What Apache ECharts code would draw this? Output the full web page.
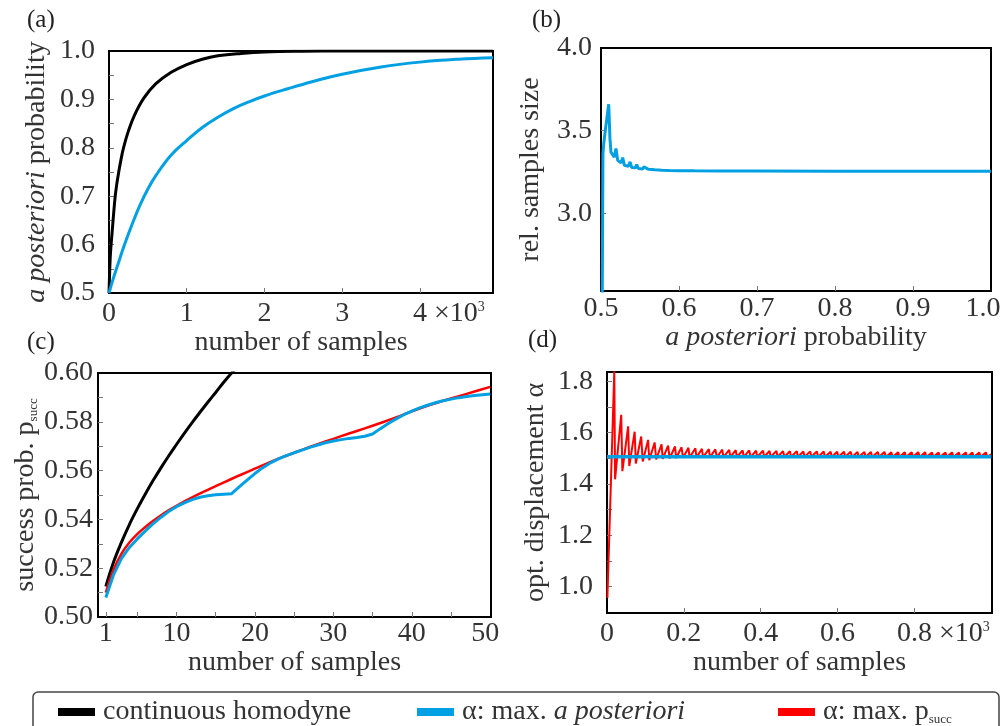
<!DOCTYPE html>
<html><head><meta charset="utf-8">
<script src="https://cdn.jsdelivr.net/npm/echarts@6/dist/echarts.min.js"></script>
<style>html,body{margin:0;padding:0;background:#fff}#c{width:1001px;height:726px}</style>
</head><body><div id="c"></div>
<script>
// ---------- Panel (a): a posteriori probability vs number of samples (x in 10^3) ----------
const aBlackX = [0, 0.01, 0.02, 0.04, 0.06, 0.08, 0.10, 0.125, 0.15, 0.185, 0.25, 0.33, 0.45, 0.6, 0.8, 1.0, 1.2, 1.4, 1.7, 2.0, 2.5, 3.0, 4.94];
const aBlackY = [0.5, 0.55, 0.585, 0.625, 0.665, 0.70, 0.725, 0.75, 0.772, 0.799, 0.835, 0.868, 0.903, 0.932, 0.956, 0.972, 0.983, 0.990, 0.995, 0.998, 0.9995, 1.0, 1.0];
const aBlueX = [0, 0.05, 0.1, 0.2, 0.3, 0.4, 0.5, 0.6, 0.8, 1.0, 1.2, 1.4, 1.6, 1.8, 2.0, 2.3, 2.6, 3.0, 3.5, 4.0, 4.5, 4.94];
const aBlueY = [0.5, 0.527, 0.552, 0.600, 0.643, 0.682, 0.715, 0.742, 0.785, 0.815, 0.842, 0.863, 0.881, 0.895, 0.907, 0.922, 0.936, 0.952, 0.967, 0.977, 0.983, 0.986];
const aXLabels = [0, 1, 2, 3, 4];
const aXTicks = [1, 2, 3, 4];
const aYLabels = [0.5, 0.6, 0.7, 0.8, 0.9, 1.0];
const aYTicks = [0.55, 0.6, 0.65, 0.7, 0.75, 0.8, 0.85, 0.9, 0.95];

// ---------- Panel (b): rel. samples size vs a posteriori probability ----------
const bX = [0.5015, 0.5025, 0.5035, 0.5060, 0.5099, 0.5115, 0.5128, 0.5170, 0.5192, 0.5214, 0.5256, 0.5278, 0.5300, 0.5350, 0.5372, 0.5394, 0.5440, 0.5458, 0.5478, 0.5534, 0.5550, 0.5610, 0.5625, 0.5690, 0.5700, 0.5780, 0.5790, 0.5880, 0.6000, 0.6200, 0.6500, 0.7000, 0.8000, 0.9000, 1.0000];
const bY = [2.40, 3.36, 3.42, 3.52, 3.66, 3.45, 3.37, 3.34, 3.392, 3.32, 3.305, 3.337, 3.29, 3.285, 3.311, 3.277, 3.275, 3.295, 3.271, 3.268, 3.281, 3.266, 3.276, 3.263, 3.270, 3.261, 3.266, 3.259, 3.258, 3.257, 3.256, 3.256, 3.255, 3.255, 3.255];
const bXLabels = [0.5, 0.6, 0.7, 0.8, 0.9, 1.0];
const bXTicks = [0.6, 0.7, 0.8, 0.9];
const bYLabels = [3.0, 3.5, 4.0];
const bYTicks = [3.0, 3.5];

// ---------- Panel (c): success probability vs number of samples ----------
const cBlackX = [1, 2, 3, 4, 5, 6, 7, 8, 9, 10, 11, 12, 13, 14, 15, 16, 17, 18, 19];
const cBlackY = [0.5125, 0.5226, 0.5307, 0.5379, 0.5443, 0.5502, 0.5558, 0.5610, 0.5660, 0.5707, 0.5753, 0.5797, 0.5839, 0.5880, 0.5920, 0.5961, 0.5999, 0.6034, 0.6072];
const cRedX = [1, 2, 3, 4, 5, 6, 7, 8, 9, 10, 12, 14, 16, 18, 20, 22, 24, 26, 28, 30, 32, 34, 36, 38, 40, 42, 44, 46, 48, 50];
const cRedY = [0.5100, 0.5195, 0.5260, 0.5305, 0.5340, 0.5368, 0.5393, 0.5416, 0.5437, 0.5456, 0.5490, 0.5521, 0.5551, 0.5580, 0.5608, 0.5636, 0.5661, 0.5685, 0.5708, 0.5730, 0.5752, 0.5773, 0.5795, 0.5818, 0.5843, 0.5866, 0.5886, 0.5905, 0.5924, 0.5943];
const cBlueX = [1, 2, 3, 4, 5, 6, 7, 8, 9, 10, 11, 12, 13, 14, 15, 16, 17, 18, 19, 20, 21, 22, 23, 24, 25, 26, 27, 28, 29, 30, 31, 32, 33, 34, 35, 36, 37, 38, 39, 40, 41, 42, 43, 44, 45, 46, 47, 48, 49, 50];
const cBlueY = [0.5080, 0.5175, 0.5240, 0.5285, 0.5320, 0.5352, 0.5382, 0.5408, 0.5432, 0.5452, 0.5468, 0.5481, 0.5491, 0.5497, 0.5501, 0.5503, 0.5505, 0.5533, 0.5561, 0.5588, 0.5612, 0.5632, 0.5648, 0.5661, 0.5673, 0.5684, 0.5695, 0.5705, 0.5714, 0.5721, 0.5727, 0.5732, 0.5736, 0.5741, 0.5750, 0.5772, 0.5793, 0.5812, 0.5829, 0.5844, 0.5857, 0.5868, 0.5878, 0.5886, 0.5893, 0.5899, 0.5904, 0.5908, 0.5911, 0.5914];
const cXLabels = [1, 10, 20, 30, 40, 50];
const cXTicks = [1, 5, 10, 15, 20, 25, 30, 35, 40, 45];
const cYLabels = [0.50, 0.52, 0.54, 0.56, 0.58, 0.60];
const cYTicks = [0.51, 0.52, 0.53, 0.54, 0.55, 0.56, 0.57, 0.58, 0.59];

// ---------- Panel (d): optimal displacement vs number of samples ----------
const dRedStart = [1, 0.955];
const dPeakX = [19, 37, 55, 72, 89, 107, 124, 142, 159, 177, 194, 212, 230, 247, 265, 282, 300, 318, 335, 353, 370, 388, 406, 423, 441, 458, 476, 494, 511, 529, 546, 564, 582, 599, 617, 634, 652, 670, 687, 705, 722, 740, 758, 775, 793, 810, 828, 846, 863, 881, 898, 916, 934, 951, 969, 986];
const dPeakY = [1.840, 1.670, 1.625, 1.604, 1.585, 1.572, 1.562, 1.555, 1.550, 1.546, 1.543, 1.541, 1.539, 1.537, 1.536, 1.535, 1.534, 1.533, 1.532, 1.531, 1.531, 1.530, 1.530, 1.529, 1.529, 1.528, 1.528, 1.528, 1.527, 1.527, 1.527, 1.527, 1.526, 1.526, 1.526, 1.526, 1.525, 1.525, 1.525, 1.525, 1.525, 1.524, 1.524, 1.524, 1.524, 1.524, 1.524, 1.523, 1.523, 1.523, 1.523, 1.523, 1.523, 1.523, 1.523, 1.523];
const dTroughX = [21, 40, 58, 75, 93, 110, 128, 145, 163, 180, 198, 215, 233, 250, 268, 286, 303, 321, 338, 356, 374, 391, 409, 426, 444, 462, 479, 497, 514, 532, 550, 567, 585, 602, 620, 638, 655, 673, 690, 708, 726, 743, 761, 778, 796, 814, 831, 849, 866, 884, 902, 919, 937, 954, 972, 990];
const dTroughY = [1.418, 1.450, 1.470, 1.480, 1.488, 1.493, 1.496, 1.498, 1.500, 1.501, 1.502, 1.503, 1.503, 1.504, 1.504, 1.504, 1.505, 1.505, 1.505, 1.505, 1.505, 1.505, 1.505, 1.505, 1.505, 1.505, 1.505, 1.505, 1.505, 1.505, 1.505, 1.505, 1.505, 1.505, 1.505, 1.505, 1.505, 1.505, 1.505, 1.505, 1.505, 1.505, 1.505, 1.505, 1.505, 1.505, 1.505, 1.505, 1.505, 1.505, 1.505, 1.505, 1.505, 1.505, 1.505, 1.505];
const dRedEnd = [1000, 1.516];
const dBlueX = [0, 1000];
const dBlueY = [1.506, 1.506];
const dXLabels = [0, 200, 400, 600, 800];
const dXTicks = [200, 400, 600, 800];
const dYLabels = [1.0, 1.2, 1.4, 1.6, 1.8];
const dYTicks = [1.0, 1.1, 1.2, 1.3, 1.4, 1.5, 1.6, 1.7, 1.8];

// ---------- helpers ----------
const FONT = '"Liberation Serif", "DejaVu Serif", serif';
const TXT = '#333';
const BLACK = '#000', BLUE = '#00a0e3', RED = '#ff0000';
const NAME_BLACK = 'continuous homodyne';
const NAME_BLUE = 'α: max. a posteriori';
const NAME_RED = 'α: max. p_succ';
function zip(xs, ys) { return xs.map((x, i) => [x, ys[i]]); }
function redD() {
  const out = [dRedStart];
  for (let i = 0; i < dPeakX.length; i++) {
    out.push([dPeakX[i], dPeakY[i]]);
    out.push([dTroughX[i], dTroughY[i]]);
  }
  out.push(dRedEnd);
  return out;
}
const baseRich = {
  n: { fontFamily: FONT, fontSize: 28, color: TXT },
  x: { fontFamily: FONT, fontSize: 28, color: TXT },
  p: { fontFamily: FONT, fontSize: 14, color: TXT, verticalAlign: 'top' },
  sp: { width: 58 },
  r16: { fontFamily: FONT, fontSize: 28, color: TXT, padding: [0, 16, 0, 0] },
  r10: { fontFamily: FONT, fontSize: 28, color: TXT, padding: [0, 10, 0, 0] },
  i: { fontFamily: FONT, fontSize: 28, color: TXT, fontStyle: 'italic' },
  t: { fontFamily: FONT, fontSize: 28, color: TXT },
  s: { fontFamily: FONT, fontSize: 13, color: TXT, verticalAlign: 'bottom' }
};
function axis(kind, grid, min, max, labels, ticks, fmt, margin, name, nameGap) {
  return {
    type: 'value', gridIndex: grid, min: min, max: max,
    name: name, nameLocation: 'middle', nameGap: nameGap,
    nameTextStyle: { fontFamily: FONT, fontSize: 28, color: TXT, rich: baseRich },
    axisLine: { show: true, onZero: false, lineStyle: { color: '#000', width: 2 } },
    axisTick: { show: true, inside: true, length: 5, customValues: ticks, lineStyle: { color: '#777', width: 1 } },
    axisLabel: { show: true, customValues: labels, formatter: fmt, margin: margin, fontFamily: FONT, fontSize: 28, color: TXT, rich: baseRich },
    splitLine: { show: false }
  };
}
function line(name, xi, data, color, width, smooth) {
  return {
    name: name, type: 'line', xAxisIndex: xi, yAxisIndex: xi, data: data,
    showSymbol: false, symbol: 'none', smooth: smooth || false,
    color: color, lineStyle: { color: color, width: width }, clip: true, animation: false
  };
}
const gridStyle = { show: true, borderColor: '#000', borderWidth: 2, containLabel: false, outerBoundsMode: 'none' };

const chart = echarts.init(document.getElementById('c'), null, { renderer: 'canvas' });
chart.setOption({
  animation: false,
  backgroundColor: '#fff',
  grid: [
    Object.assign({ left: 109, top: 51, width: 384, height: 242 }, gridStyle),
    Object.assign({ left: 601, top: 48, width: 390, height: 243 }, gridStyle),
    Object.assign({ left: 98, top: 373, width: 393, height: 244 }, gridStyle),
    Object.assign({ left: 607, top: 372, width: 385, height: 241 }, gridStyle)
  ],
  xAxis: [
    axis('x', 0, 0, 4.94, aXLabels, aXTicks, v => v === 4 ? '{sp|}{n|4}{x| ×10}{p|3}' : '{n|' + v + '}', 7, 'number of samples', 32),
    axis('x', 1, 0.5, 1.0, bXLabels, bXTicks, v => v === 1 ? '{r16|1.0}' : '{n|' + v.toFixed(1) + '}', 4, '{i|a posteriori} probability', 31),
    axis('x', 2, 0, 50.1, cXLabels, cXTicks, v => v === 50 ? '{r10|50}' : '{n|' + v + '}', 3, 'number of samples', 31),
    axis('x', 3, 0, 1002, dXLabels, dXTicks, v => v === 0 ? '{n|0}' : (v === 800 ? '{sp|}{n|0.8}{x| ×10}{p|3}' : '{n|' + (v / 1000).toFixed(1) + '}'), 7, 'number of samples', 35)
  ],
  yAxis: [
    axis('y', 0, 0.5, 1.0, aYLabels, aYTicks, v => v.toFixed(1), 14, '{i|a posteriori} probability', 58),
    axis('y', 1, 2.53, 4.0, bYLabels, bYTicks, v => v.toFixed(1), 9, 'rel. samples size', 56),
    axis('y', 2, 0.5, 0.6, cYLabels, cYTicks, v => v.toFixed(2), 5, '{t|success prob. p}{s|succ}', 57),
    axis('y', 3, 0.896, 1.837, dYLabels, dYTicks, v => v.toFixed(1), 14, 'opt. displacement α', 57)
  ],
  legend: [
    { data: [NAME_BLACK], left: 58, top: 698 },
    { data: [NAME_BLUE], left: 417, top: 698 },
    { data: [NAME_RED], left: 778, top: 698 }
  ].map(l => Object.assign(l, {
    icon: 'rect', itemWidth: 37, itemHeight: 8, padding: 0, selectedMode: false,
    textStyle: { fontFamily: FONT, fontSize: 28, color: TXT, padding: [0, 0, 0, 3], rich: baseRich },
    formatter: name => name === NAME_BLUE ? '{t|α: max. }{i|a posteriori}' : (name === NAME_RED ? '{t|α: max. p}{s|succ}' : name)
  })),
  graphic: [
    { type: 'rect', shape: { x: 33, y: 692, width: 966, height: 60, r: 5 }, style: { fill: 'none', stroke: '#444', lineWidth: 1.5 }, z: 0 },
    { type: 'text', x: 27, y: 8, style: { text: '(a)', fontFamily: FONT, fontSize: 25, fill: '#222', verticalAlign: 'top' } },
    { type: 'text', x: 532, y: 8, style: { text: '(b)', fontFamily: FONT, fontSize: 25, fill: '#222', verticalAlign: 'top' } },
    { type: 'text', x: 27, y: 330, style: { text: '(c)', fontFamily: FONT, fontSize: 25, fill: '#222', verticalAlign: 'top' } },
    { type: 'text', x: 528, y: 328, style: { text: '(d)', fontFamily: FONT, fontSize: 25, fill: '#222', verticalAlign: 'top' } }
  ],
  series: [
    line(NAME_BLACK, 0, zip(aBlackX, aBlackY), BLACK, 3, 0.4),
    line(NAME_BLUE, 0, zip(aBlueX, aBlueY), BLUE, 3, 0.4),
    line(NAME_BLUE, 1, zip(bX, bY), BLUE, 3, false),
    line(NAME_BLACK, 2, zip(cBlackX, cBlackY), BLACK, 3, 0.4),
    line(NAME_RED, 2, zip(cRedX, cRedY), RED, 2.5, 0.4),
    line(NAME_BLUE, 2, zip(cBlueX, cBlueY), BLUE, 3, false),
    line(NAME_RED, 3, redD(), RED, 2, false),
    line(NAME_BLUE, 3, zip(dBlueX, dBlueY), BLUE, 3.5, false)
  ]
});
</script>
</body></html>
